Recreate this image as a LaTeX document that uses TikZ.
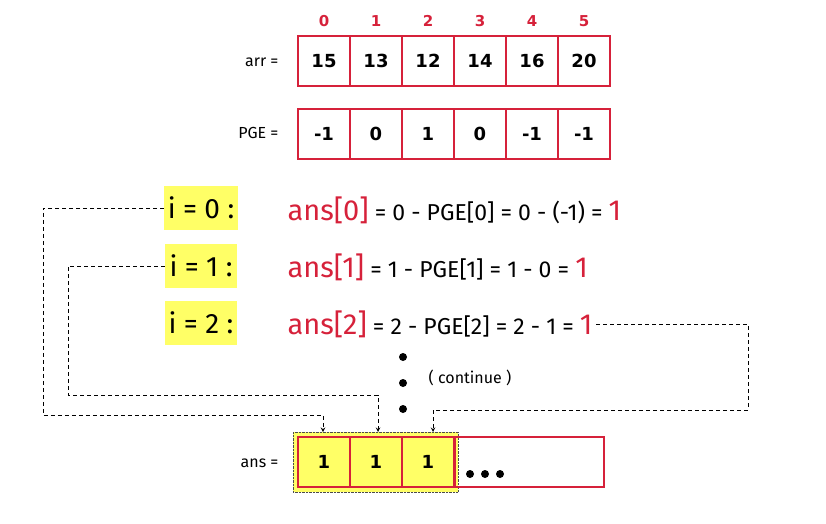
\documentclass[tikz,border=0pt]{standalone}
\usepackage{fontspec}
\setmainfont{DejaVu Sans}
\newfontfamily\eqfont{Fira Sans}
\definecolor{cellred}{HTML}{D6213A}
\definecolor{hiyellow}{HTML}{FFFF66}
\newcommand{\fs}[1]{\fontsize{#1}{#1}\selectfont}
\begin{document}
\begin{tikzpicture}[x=1pt, y=-1pt, >=stealth]
    \tikzset{
        cell/.style  = {draw = cellred, line width = 2pt, minimum width = 52pt, minimum height = 50pt, inner sep = 0pt, font = \bfseries\fs{18}},
        hcell/.style = {cell, fill = hiyellow},
        idx/.style   = {text = cellred, font = \bfseries\fs{15}},
        lbl/.style   = {font = \eqfont\fs{16}, anchor = east},
        ival/.style  = {fill = hiyellow, font = \eqfont\fs{28}, minimum width = 72pt, minimum height = 44pt},
        eq/.style    = {font = \eqfont\fs{23}, anchor = west},
        link/.style  = {dashed, line width = 1pt, ->, dash pattern = on 4pt off 3pt}
    }
    \useasboundingbox (0,0) rectangle (826,523);
    % arr and PGE rows
    \foreach \v [count = \k from 0] in {15,13,12,14,16,20}
        \node[cell] (A\k) at (324 + 52*\k, 61) {\v};
    \foreach \v [count = \k from 0] in {15,13,12,14,16,20}
        \node[idx] (I\k) at (324 + 52*\k, 21) {\k};
    \foreach \v [count = \k from 0] in {-1,0,1,0,-1,-1}
        \node[cell] (P\k) at (324 + 52*\k, 134) {\v};
    \node[lbl] (arr) at (282, 62) {arr =};
    \node[lbl] (pge) at (282, 133) {PGE =};

    % steps
    \node[ival] (S0) at (201, 208) {i = 0 :};
    \node[ival] (S1) at (201, 266) {i = 1 :};
    \node[ival] (S2) at (201, 323) {i = 2 :};
    \node[eq] (E0) at (284, 210) {\textcolor{cellred}{\fs{29}ans[0]} = 0 - PGE[0] = 0 - (-1) = \textcolor{cellred}{\fs{29}1}};
    \node[eq] (E1) at (284, 267) {\textcolor{cellred}{\fs{29}ans[1]} = 1 - PGE[1] = 1 - 0 = \textcolor{cellred}{\fs{29}1}};
    \node[eq] (E2) at (284, 324) {\textcolor{cellred}{\fs{29}ans[2]} = 2 - PGE[2] = 2 - 1 = \textcolor{cellred}{\fs{29}1}};
    \foreach \y in {357, 383, 409}
        \fill (403, \y) circle (4pt);
    \node[font = \eqfont\fs{16}] (cont) at (470, 378) {( continue )};

    % ans row
    \fill[hiyellow, draw = black!70, densely dotted] (293, 432) rectangle (458, 492);
    \foreach \k in {0,1,2}
        \node[hcell] (R\k) at (324 + 52*\k, 462) {1};
    \node[cell, minimum width = 149pt, anchor = west] (R3) at (454, 462) {};
    \node[lbl] (ans) at (282, 463) {ans =};
    \foreach \x in {470, 485, 500}
        \fill (\x, 474) circle (4pt);

    % links
    \draw[link] (S0.west) -- (43, 208) |- (323, 415) -- (323, 432);
    \draw[link] (S1.west) -- (68, 266) |- (378, 395) -- (378, 432);
    \draw[link] (E2.east) -| (748, 410) -| (433, 432);
\end{tikzpicture}
\end{document}
